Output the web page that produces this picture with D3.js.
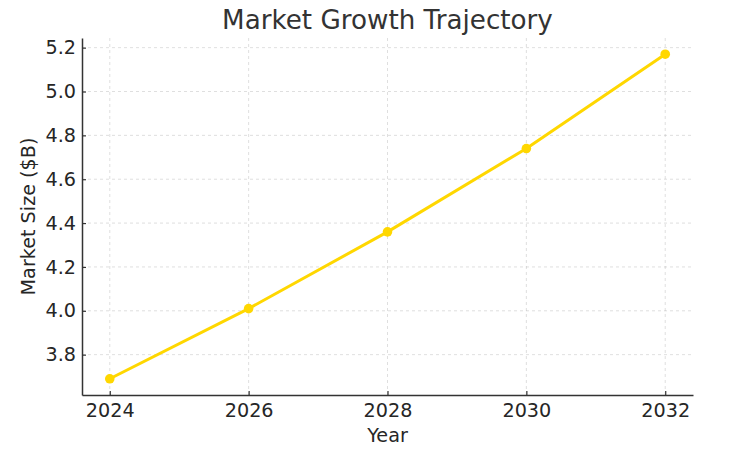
<!DOCTYPE html>
<html>
<head>
<meta charset="utf-8">
<script src="https://cdn.jsdelivr.net/npm/d3@7"></script>
<style>
  body { margin: 0; background: #fff; }
  svg { display: block; font-family: "DejaVu Sans", sans-serif; }
</style>
</head>
<body>
<script>
var years = [2024, 2026, 2028, 2030, 2032];
var marketSize = [3.69, 4.01, 4.36, 4.74, 5.17];
var yTicks = [3.8, 4.0, 4.2, 4.4, 4.6, 4.8, 5.0, 5.2];

var width = 755, height = 450;
var margin = {top: 38, right: 62, bottom: 55, left: 82};

var svg = d3.select("body").append("svg")
  .attr("width", width)
  .attr("height", height);

// matplotlib-style 5% padding around the data
var xPad = (d3.max(years) - d3.min(years)) * 0.05;
var yPad = (d3.max(marketSize) - d3.min(marketSize)) * 0.05;

var x = d3.scaleLinear()
  .domain([d3.min(years) - xPad, d3.max(years) + xPad])
  .range([margin.left, width - margin.right]);

var y = d3.scaleLinear()
  .domain([d3.min(marketSize) - yPad, d3.max(marketSize) + yPad])
  .range([height - margin.bottom, margin.top]);

// grid
var grid = svg.append("g")
  .attr("stroke", "#b0b0b0")
  .attr("stroke-opacity", 0.5)
  .attr("stroke-dasharray", "3,3")
  .attr("stroke-width", 0.8);

grid.selectAll("line.gx")
  .data(years)
  .enter().append("line")
  .attr("x1", function(d) { return x(d); })
  .attr("x2", function(d) { return x(d); })
  .attr("y1", margin.top)
  .attr("y2", height - margin.bottom);

grid.selectAll("line.gy")
  .data(yTicks)
  .enter().append("line")
  .attr("x1", margin.left)
  .attr("x2", width - margin.right)
  .attr("y1", function(d) { return y(d); })
  .attr("y2", function(d) { return y(d); });

// axes (ticks point inward)
var xAxis = svg.append("g")
  .attr("transform", "translate(0," + (height - margin.bottom) + ")")
  .call(d3.axisBottom(x).tickValues(years).tickFormat(d3.format("d"))
    .tickSizeInner(-4).tickSizeOuter(0).tickPadding(8));

var yAxis = svg.append("g")
  .attr("transform", "translate(" + margin.left + ",0)")
  .call(d3.axisLeft(y).tickValues(yTicks).tickFormat(d3.format(".1f"))
    .tickSizeInner(-4).tickSizeOuter(0).tickPadding(6));

[xAxis, yAxis].forEach(function(a) {
  a.select(".domain").attr("stroke", "#333").attr("stroke-width", 1.5);
  a.selectAll(".tick line").attr("stroke", "#333").attr("stroke-width", 1.2);
  a.selectAll(".tick text")
    .attr("fill", "#262626")
    .style("font-size", "19.2px")
    .style("font-family", "DejaVu Sans");
});

// line + markers
var line = d3.line()
  .x(function(d, i) { return x(years[i]); })
  .y(function(d) { return y(d); });

svg.append("path")
  .datum(marketSize)
  .attr("fill", "none")
  .attr("stroke", "#FFD700")
  .attr("stroke-width", 3)
  .attr("stroke-linejoin", "round")
  .attr("d", line);

svg.selectAll("circle.pt")
  .data(marketSize)
  .enter().append("circle")
  .attr("class", "pt")
  .attr("cx", function(d, i) { return x(years[i]); })
  .attr("cy", function(d) { return y(d); })
  .attr("r", 4.8)
  .attr("fill", "#FFD700");

// labels
svg.append("text")
  .attr("x", (margin.left + width - margin.right) / 2)
  .attr("y", 29)
  .attr("text-anchor", "middle")
  .attr("fill", "#333")
  .style("font-size", "26.2px")
  .text("Market Growth Trajectory");

svg.append("text")
  .attr("x", (margin.left + width - margin.right) / 2)
  .attr("y", 442)
  .attr("text-anchor", "middle")
  .attr("fill", "#262626")
  .style("font-size", "19.2px")
  .text("Year");

svg.append("text")
  .attr("transform", "translate(35," + ((margin.top + height - margin.bottom) / 2) + ") rotate(-90)")
  .attr("text-anchor", "middle")
  .attr("fill", "#262626")
  .style("font-size", "19.2px")
  .text("Market Size ($B)");
</script>
</body>
</html>
